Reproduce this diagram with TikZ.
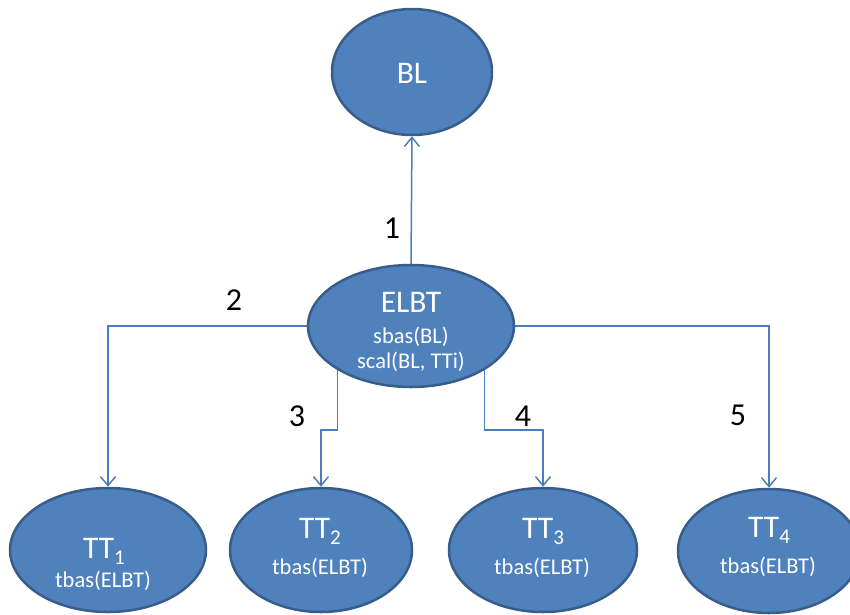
\documentclass[tikz,border=0pt]{standalone}
\usepackage{fontspec}
\setmainfont{Carlito}
\usetikzlibrary{arrows.meta,shapes.geometric}
\definecolor{nodefill}{HTML}{4F81BD}
\definecolor{nodeline}{HTML}{385D8A}
\definecolor{linkblue}{HTML}{4A7EBB}
% lowered, smaller index after a node title
\newcommand\lowidx[1]{\raisebox{-6pt}{\fontsize{21}{21}\selectfont #1}}
\begin{document}
\begin{tikzpicture}[x=1pt,y=-1pt,
  blob/.style={ellipse, draw=nodeline, fill=nodefill, line width=2.5pt, inner sep=0pt},
  title/.style={text=white, font=\fontsize{31.5}{31.5}\selectfont, anchor=base, inner sep=0pt},
  note/.style={text=white, font=\fontsize{22.5}{22.5}\selectfont, anchor=base, inner sep=0pt},
  numlabel/.style={text=black, font=\fontsize{32}{32}\selectfont, inner sep=0pt},
  link/.style={draw=linkblue, line width=1.5pt},
  arrowed/.style={-{Straight Barb[length=9pt,width=15pt,line width=1.5pt]}}
]
\useasboundingbox (0,0) rectangle (850,614);
\clip (0,0) rectangle (850,614);

% ellipses
\node[blob, minimum width=160pt, minimum height=126pt] (bl) at (412,72) {};
\node[blob, minimum width=206pt, minimum height=122pt] (elbt) at (411,326) {};
\node[blob, minimum width=196pt, minimum height=124pt] (tt1) at (108,550) {};
\node[blob, minimum width=182pt, minimum height=124pt] (tt2) at (321,550) {};
\node[blob, minimum width=188pt, minimum height=124pt] (tt3) at (543,550) {};
\node[blob, minimum width=182pt, minimum height=124pt] (tt4) at (769,551) {};

% texts inside the ellipses
\node[title] (blt) at (412,83) {BL};
\node[title] (elbtt) at (411,312) {ELBT};
\node[note] (elbts) at (411,343) {sbas(BL)};
\node[note] (elbtc) at (411,368) {scal(BL, TTi)};
\node[title] (tt1t) at (104,558) {TT\lowidx{1}};
\node[note] (tt1n) at (103,587) {tbas(ELBT)};
\node[title] (tt2t) at (320,538) {TT\lowidx{2}};
\node[note] (tt2n) at (320,574) {tbas(ELBT)};
\node[title] (tt3t) at (543,538) {TT\lowidx{3}};
\node[note] (tt3n) at (542,574) {tbas(ELBT)};
\node[title] (tt4t) at (769,537) {TT\lowidx{4}};
\node[note] (tt4n) at (768,573) {tbas(ELBT)};

% level of the short elbows
\coordinate (row) at (0,430);

% connectors
\draw[link, arrowed] (elbt.north) -- (bl.south);
\draw[link, arrowed] (elbt.west) -| (tt1.north);
\draw[link, arrowed] (elbt.211.8) |- (tt2.north |- row) -- (tt2.north);
\draw[link, arrowed] (elbt.329.5) |- (tt3.north |- row) -- (tt3.north);
\draw[link, arrowed] (elbt.east) -| (tt4.north);

% connector numbers
\node[numlabel] (n1) at (392,228) {1};
\node[numlabel] (n2) at (234,300) {2};
\node[numlabel] (n3) at (297,416) {3};
\node[numlabel] (n4) at (523,416) {4};
\node[numlabel] (n5) at (738,415) {5};
\end{tikzpicture}
\end{document}
